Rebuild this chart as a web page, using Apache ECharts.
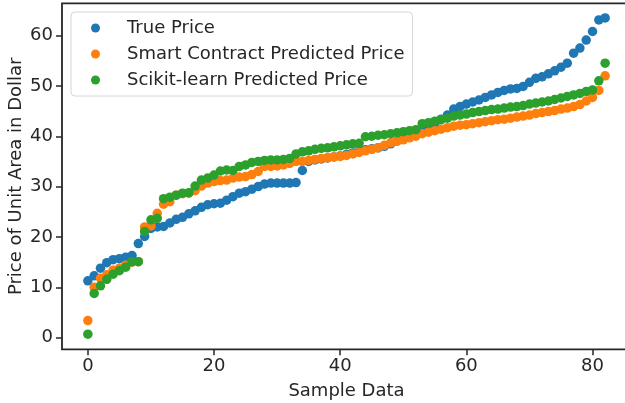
<!DOCTYPE html>
<html>
<head>
<meta charset="utf-8">
<script src="https://cdn.jsdelivr.net/npm/echarts@6/dist/echarts.min.js"></script>
<style>
html,body{margin:0;padding:0;background:#fff;}
#chart{width:625px;height:403px;}
</style>
</head>
<body>
<div id="chart"></div>
<script>
var seriesNames = ['True Price', 'Smart Contract Predicted Price', 'Scikit-learn Predicted Price'];
var xTicks = [0, 20, 40, 60, 80];
var yTicks = [0, 10, 20, 30, 40, 50, 60];

var truePrice = [
  11.3, 12.3, 13.8, 14.9, 15.5, 15.7, 16.0, 16.3, 18.7, 20.1,
  21.7, 22.0, 22.1, 22.8, 23.5, 23.9, 24.6, 25.2, 25.9, 26.4,
  26.6, 26.7, 27.3, 28.0, 28.7, 29.0, 29.5, 30.0, 30.5, 30.7,
  30.7, 30.7, 30.7, 30.8, 33.2, 35.0, 35.3, 35.5, 35.7, 35.9,
  36.1, 36.4, 36.7, 37.0, 37.3, 37.5, 37.7, 38.0, 38.5, 39.1,
  39.6, 40.2, 40.7, 41.2, 41.6, 42.2, 43.4, 44.2, 45.4, 45.9,
  46.4, 46.8, 47.2, 47.7, 48.2, 48.7, 49.1, 49.4, 49.5, 49.9,
  50.7, 51.5, 51.8, 52.4, 53.0, 53.7, 54.5, 56.5, 57.5, 59.1,
  60.8, 63.1, 63.5
];
var smartContract = [
  3.4, 10.0, 11.8, 12.5, 13.4, 13.8, 14.4, 15.0, 15.1, 22.0,
  22.2, 24.7, 26.5, 27.0, 28.3, 28.6, 28.7, 29.2, 30.1, 30.7,
  31.0, 31.2, 31.3, 31.7, 31.9, 32.0, 32.4, 33.0, 34.0, 34.0,
  34.1, 34.3, 34.6, 35.0, 35.0, 35.2, 35.4, 35.6, 35.7, 35.9,
  36.0, 36.2, 36.5, 36.8, 37.1, 37.4, 37.7, 38.2, 38.7, 39.0,
  39.3, 39.7, 40.0, 40.5, 40.8, 41.1, 41.4, 41.7, 42.0, 42.2,
  42.3, 42.5, 42.7, 42.9, 43.1, 43.3, 43.4, 43.6, 43.8, 44.0,
  44.2, 44.5, 44.7, 44.9, 45.1, 45.4, 45.6, 45.9, 46.3, 47.0,
  47.7, 49.1, 52.0
];
var scikitLearn = [
  0.7, 8.8, 10.3, 11.6, 12.6, 13.3, 14.0, 15.1, 15.1, 21.1,
  23.4, 23.7, 27.6, 27.9, 28.3, 28.7, 28.8, 30.1, 31.3, 31.7,
  32.3, 33.1, 33.3, 33.2, 34.0, 34.3, 34.8, 35.0, 35.2, 35.3,
  35.3, 35.4, 35.6, 36.5, 36.9, 37.1, 37.4, 37.6, 37.7, 37.9,
  38.1, 38.3, 38.5, 38.6, 39.9, 40.0, 40.2, 40.3, 40.5, 40.7,
  40.9, 41.1, 41.3, 42.5, 42.7, 43.0, 43.3, 43.6, 44.0, 44.2,
  44.4, 44.7, 44.9, 45.1, 45.3, 45.4, 45.6, 45.8, 45.9, 46.1,
  46.4, 46.6, 46.8, 47.0, 47.3, 47.6, 47.9, 48.2, 48.5, 48.9,
  49.2, 51.0, 54.5
];
var colors = ['#1f77b4', '#ff7f0e', '#2ca02c'];

function toPairs(arr) {
  return arr.map(function (v, i) { return [i, v]; });
}

var chart = echarts.init(document.getElementById('chart'), null, {renderer: 'canvas'});
var textColor = '#262626';
var fontFam = 'DejaVu Sans';
var fs = 18;

var option = {
  animation: false,
  backgroundColor: '#ffffff',
  color: colors,
  grid: {
    left: 62, right: -6, top: 3.3, bottom: 53.7,
    containLabel: false,
    outerBoundsMode: 'none',
    show: true, borderColor: textColor, borderWidth: 1.8, backgroundColor: 'transparent'
  },
  legend: {
    orient: 'vertical',
    left: 71, top: 12,
    padding: [6, 8, 6, 20],
    itemWidth: 9, itemHeight: 9, itemGap: 6,
    icon: 'circle',
    borderColor: '#d6d6d6', borderWidth: 1, borderRadius: 4,
    backgroundColor: 'rgba(255,255,255,0.8)',
    textStyle: {fontFamily: fontFam, fontSize: fs, color: textColor, lineHeight: 20, padding: [0, 0, 0, 22]},
    data: seriesNames
  },
  xAxis: {
    type: 'value',
    min: -4.1, max: 86.1,
    name: 'Sample Data',
    nameLocation: 'middle',
    nameGap: 33,
    nameMoveOverlap: false,
    nameTextStyle: {fontFamily: fontFam, fontSize: fs, color: textColor},
    axisLine: {show: false, onZero: false},
    splitLine: {show: false},
    axisTick: {show: true, length: 6, lineStyle: {color: textColor, width: 1.5}, customValues: xTicks},
    axisLabel: {fontFamily: fontFam, fontSize: fs, color: textColor, margin: 8, customValues: xTicks}
  },
  yAxis: {
    type: 'value',
    min: -2.3, max: 66.4,
    name: 'Price of Unit Area in Dollar',
    nameLocation: 'middle',
    nameGap: 37,
    nameMoveOverlap: false,
    nameRotate: 90,
    nameTextStyle: {fontFamily: fontFam, fontSize: fs, color: textColor},
    axisLine: {show: false, onZero: false},
    splitLine: {show: false},
    axisTick: {show: true, length: 6, lineStyle: {color: textColor, width: 1.5}, customValues: yTicks},
    axisLabel: {fontFamily: fontFam, fontSize: fs, color: textColor, margin: 9, customValues: yTicks}
  },
  series: [
    {name: seriesNames[0], type: 'scatter', symbolSize: 9.5, data: toPairs(truePrice), itemStyle: {color: colors[0], opacity: 1}},
    {name: seriesNames[1], type: 'scatter', symbolSize: 9.5, data: toPairs(smartContract), itemStyle: {color: colors[1], opacity: 1}},
    {name: seriesNames[2], type: 'scatter', symbolSize: 9.5, data: toPairs(scikitLearn), itemStyle: {color: colors[2], opacity: 1}}
  ]
};
chart.setOption(option);
</script>
</body>
</html>
